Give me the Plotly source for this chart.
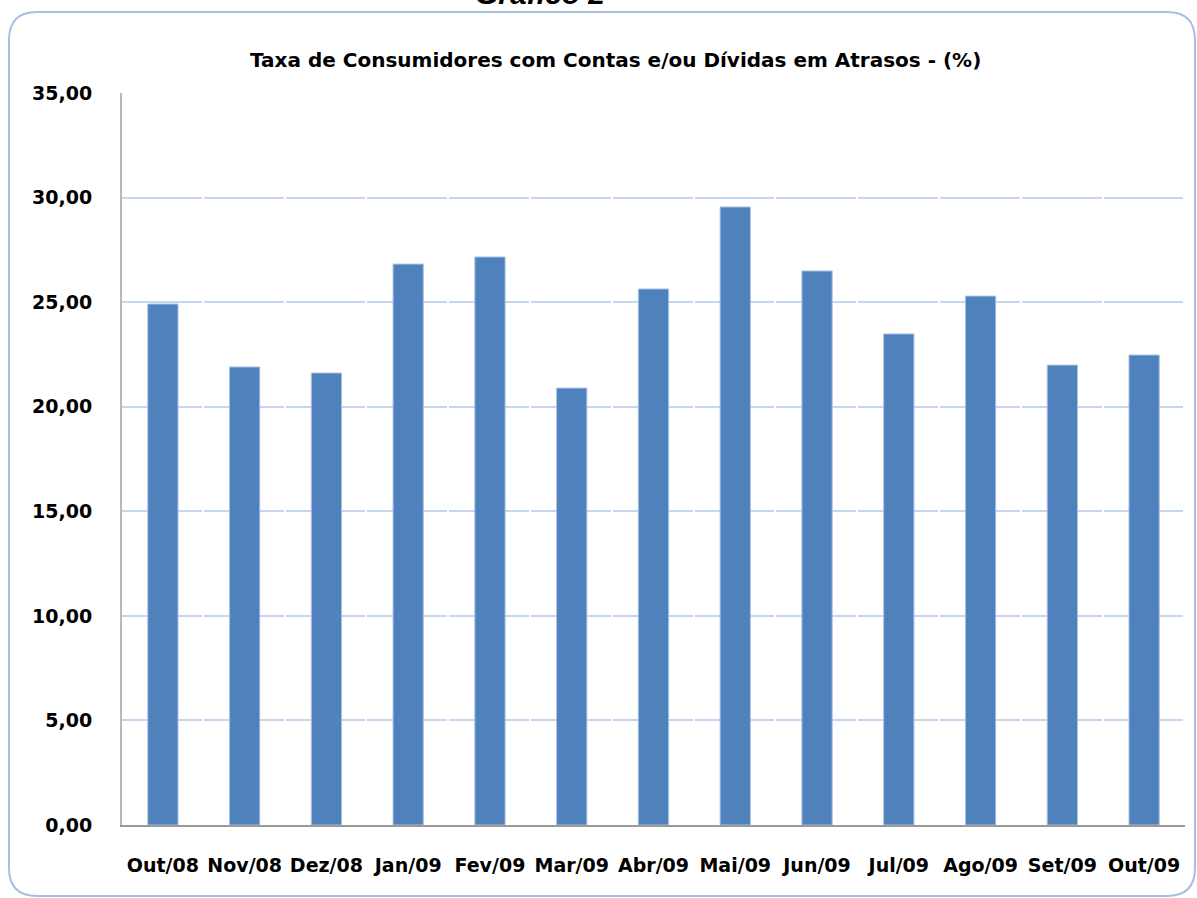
import plotly.graph_objects as go

categories = ["Out/08", "Nov/08", "Dez/08", "Jan/09", "Fev/09", "Mar/09", "Abr/09",
              "Mai/09", "Jun/09", "Jul/09", "Ago/09", "Set/09", "Out/09"]
values = [24.91, 21.90, 21.61, 26.82, 27.16, 20.89, 25.63, 29.55, 26.49, 23.48, 25.29, 21.99, 22.47]
title_text = "Taxa de Consumidores com Contas e/ou Dívidas em Atrasos - (%)"
header_text = "Gráfico 2"

W, H = 1197, 898
L, R, T, B = 122, 1185, 93, 825
pw, ph = R - L, B - T

def px(x):
    return (x - L) / pw

def py(y):
    return (B - y) / ph

FONT = "DejaVu Sans"

fig = go.Figure()
fig.add_trace(go.Bar(
    x=categories, y=values,
    marker=dict(color="#4F81BD", line=dict(color="#A9C1E3", width=1)),
    hoverinfo="x+y",
))

# rounded border
x0, x1 = px(9), px(1195)
y0, y1 = py(896), py(12)
rx, ry = 28 / pw, 28 / ph
path = (f"M {x0+rx},{y1} L {x1-rx},{y1} Q {x1},{y1} {x1},{y1-ry} "
        f"L {x1},{y0+ry} Q {x1},{y0} {x1-rx},{y0} L {x0+rx},{y0} "
        f"Q {x0},{y0} {x0},{y0+ry} L {x0},{y1-ry} Q {x0},{y1} {x0+rx},{y1} Z")
fig.add_shape(type="path", path=path, xref="paper", yref="paper",
              line=dict(color="#A7BFE4", width=2), layer="below")

fig.add_annotation(text="<b>" + title_text + "</b>", xref="paper", yref="paper",
                   x=px(615), y=py(60), xanchor="center", yanchor="middle", showarrow=False,
                   font=dict(family=FONT, size=20, color="#000000"))
fig.add_annotation(text="<b><i>" + header_text + "</i></b>", xref="paper", yref="paper",
                   x=px(540), y=py(-6), xanchor="center", yanchor="middle", showarrow=False,
                   font=dict(family="Liberation Sans", size=30, color="#000000"))

fig.update_layout(
    width=W, height=H,
    margin=dict(l=L, r=W - R, t=T, b=H - B),
    paper_bgcolor="white", plot_bgcolor="white",
    bargap=0.63,
    showlegend=False,
    separators=",.",
    font=dict(family=FONT, size=19, color="#000000"),
)
fig.update_xaxes(
    type="category",
    showline=True, linecolor="#9A9A9A", linewidth=2,
    showgrid=False, ticks="",
    tickfont=dict(family=FONT, size=19, color="#000000", weight="bold"),
    ticklabelstandoff=22,
)
fig.update_yaxes(
    range=[0, 35], dtick=5, tickformat=".2f",
    showline=True, linecolor="#B8B8B8", linewidth=2,
    showgrid=True, gridcolor="#C6D5F0", gridwidth=2, griddash="79.8px,2px",
    zeroline=False, ticks="",
    tickfont=dict(family=FONT, size=19, color="#000000", weight="bold"),
    ticklabelstandoff=24,
)

fig.write_html("out.html", config={"displayModeBar": False},
               post_script="document.body.style.margin='0px';")
